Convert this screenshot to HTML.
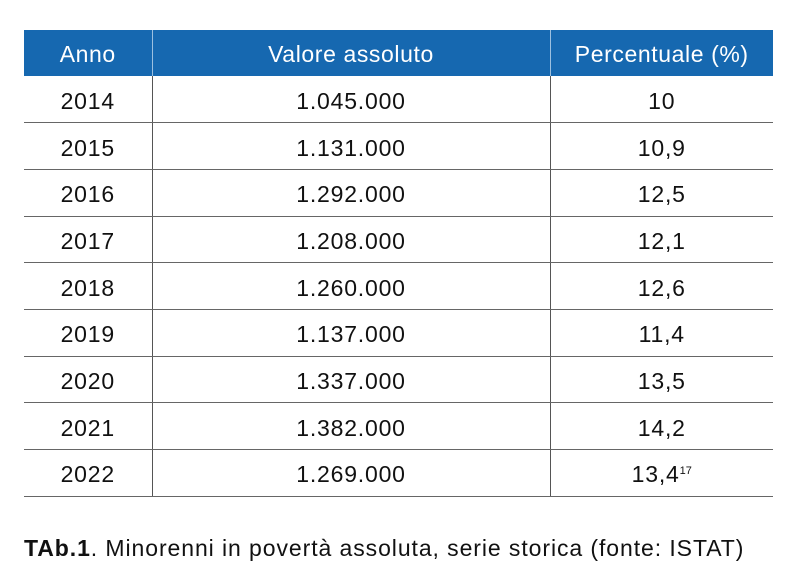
<!DOCTYPE html>
<html><head><style>
body{margin:0;width:797px;height:583px;background:#fff;font-family:"Liberation Sans",sans-serif;overflow:hidden;position:relative}
table{position:absolute;left:24px;top:30px;width:749px;border-collapse:collapse}
th{background:#1668b0;color:#fff;font-weight:normal;font-size:23px;letter-spacing:0.6px;height:46px;padding:3px 0 0 0;border-right:1px solid #9cc0e0;box-sizing:border-box}
th:last-child{border-right:none}
td{font-size:23px;letter-spacing:0.8px;color:#111;text-align:center;height:46.7px;padding:4px 0 0 0;border-bottom:1.5px solid #666;border-right:1.5px solid #555;box-sizing:border-box}
td:last-child{border-right:none}
sup{font-size:11px;vertical-align:8px;letter-spacing:0}
.cap{position:absolute;left:24px;top:535px;font-size:23px;letter-spacing:0.92px;color:#111}
</style></head><body>
<table>
<colgroup><col style="width:128px"><col style="width:398px"><col style="width:223px"></colgroup>
<tr><th>Anno</th><th>Valore assoluto</th><th>Percentuale (%)</th></tr>
<tr><td>2014</td><td>1.045.000</td><td>10</td></tr>
<tr><td>2015</td><td>1.131.000</td><td>10,9</td></tr>
<tr><td>2016</td><td>1.292.000</td><td>12,5</td></tr>
<tr><td>2017</td><td>1.208.000</td><td>12,1</td></tr>
<tr><td>2018</td><td>1.260.000</td><td>12,6</td></tr>
<tr><td>2019</td><td>1.137.000</td><td>11,4</td></tr>
<tr><td>2020</td><td>1.337.000</td><td>13,5</td></tr>
<tr><td>2021</td><td>1.382.000</td><td>14,2</td></tr>
<tr><td>2022</td><td>1.269.000</td><td>13,4<sup>17</sup></td></tr>
</table>
<div class="cap"><b>TAb.1</b>. Minorenni in povertà assoluta, serie storica (fonte: ISTAT)</div>
</body></html>
